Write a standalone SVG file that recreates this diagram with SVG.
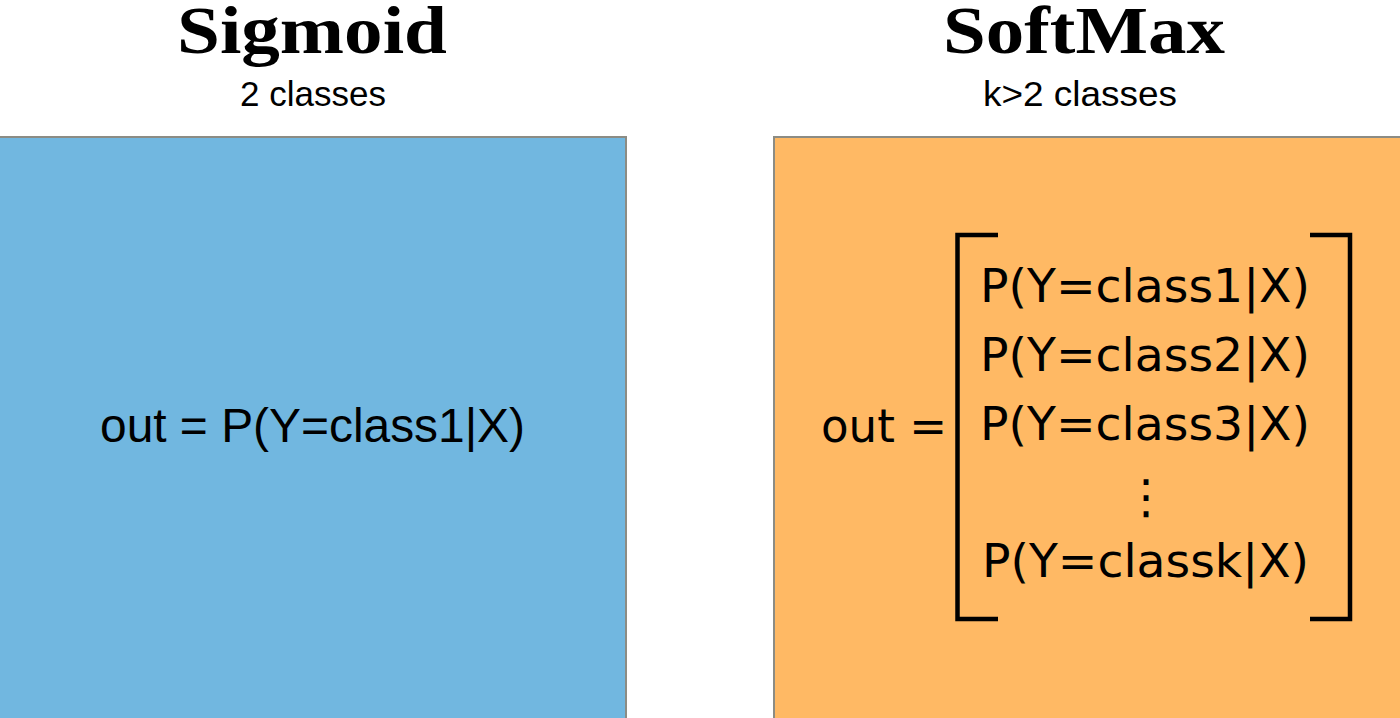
<svg xmlns="http://www.w3.org/2000/svg" width="1400" height="718" viewBox="0 0 1400 718">
<style>
.title{font-family:"Liberation Serif",serif;font-weight:bold;font-size:68px;fill:#000;text-anchor:middle}
.sub{font-family:"Liberation Sans",Arial,sans-serif;font-size:35px;fill:#000;text-anchor:middle}
.eq{font-family:"Liberation Sans",Arial,sans-serif;font-size:48px;fill:#000}
.dv{font-family:"DejaVu Sans",sans-serif;font-size:47px;fill:#000}
.edge{fill:none;stroke:#8c8c84;stroke-width:2}
.br{fill:none;stroke:#000;stroke-width:4.5}
</style>
<rect width="1400" height="718" fill="#fff"/>
<g id="sigmoid">
<rect x="0" y="136" width="626" height="582" fill="#71b7e0"/>
<polyline class="edge" points="0,137 626,137 626,718"/>
<text class="title" x="312" y="53" textLength="270" lengthAdjust="spacingAndGlyphs">Sigmoid</text>
<text class="sub" x="313" y="106">2 classes</text>
<text class="eq" x="100" y="442" textLength="425" lengthAdjust="spacingAndGlyphs">out = P(Y=class1|X)</text>
</g>
<g id="softmax">
<rect x="774" y="136" width="626" height="582" fill="#ffb964"/>
<polyline class="edge" points="774,718 774,137 1400,137"/>
<text class="title" x="1084" y="53" textLength="282" lengthAdjust="spacingAndGlyphs">SoftMax</text>
<text class="sub" x="1080" y="106" textLength="194" lengthAdjust="spacingAndGlyphs">k&gt;2 classes</text>
<text class="dv" x="821" y="442" textLength="126" lengthAdjust="spacingAndGlyphs">out =</text>
<path class="br" d="M998,235 H957.5 V619 H998"/>
<path class="br" d="M1310,235 H1350 V619 H1310"/>
<text class="dv" x="980" y="302" textLength="330" lengthAdjust="spacingAndGlyphs">P(Y=class1|X)</text>
<text class="dv" x="980" y="371" textLength="330" lengthAdjust="spacingAndGlyphs">P(Y=class2|X)</text>
<text class="dv" x="980" y="440" textLength="330" lengthAdjust="spacingAndGlyphs">P(Y=class3|X)</text>
<text class="dv" x="1146" y="513" text-anchor="middle">⋮</text>
<text class="dv" x="982" y="577" textLength="327" lengthAdjust="spacingAndGlyphs">P(Y=classk|X)</text>
</g>
</svg>
